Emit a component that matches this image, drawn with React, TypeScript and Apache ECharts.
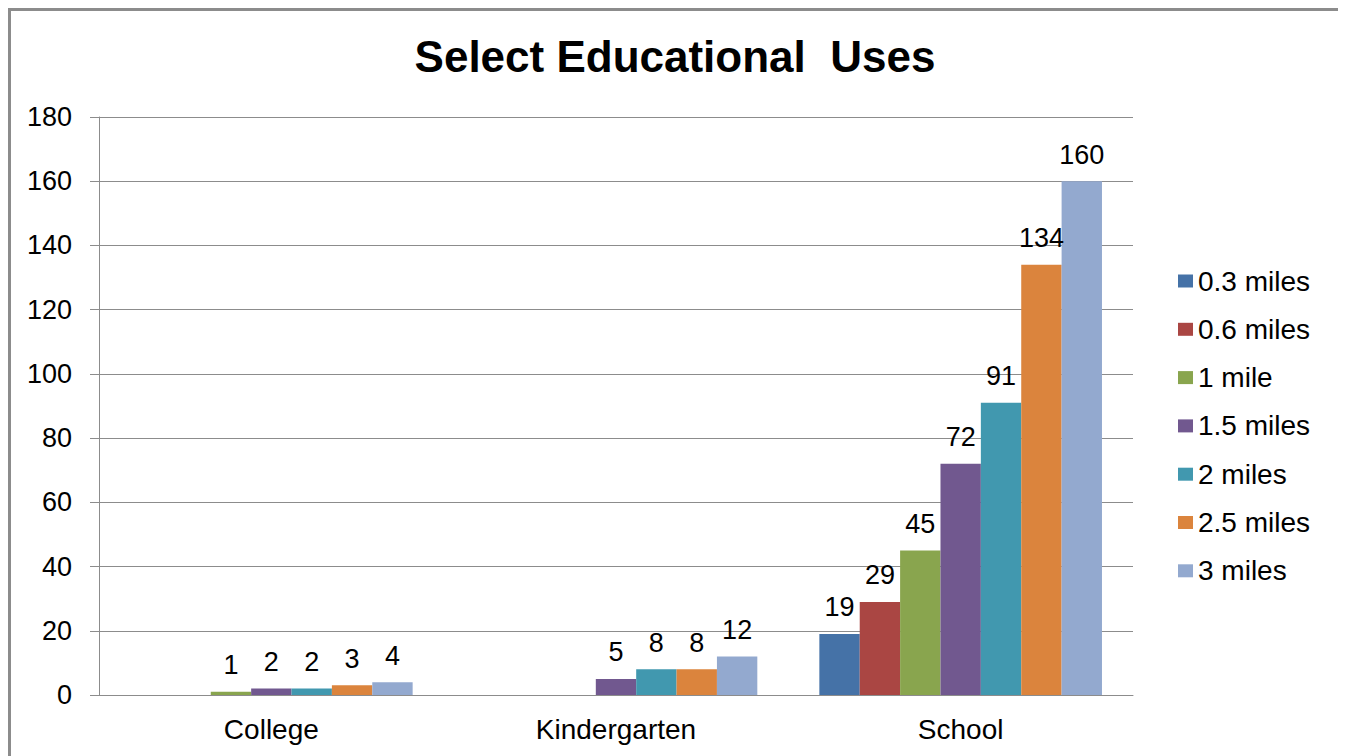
import React, { useEffect, useRef } from "react";
import * as echarts from "echarts";

const categories = ["College", "Kindergarten", "School"];
const seriesNames = ["0.3 miles", "0.6 miles", "1 mile", "1.5 miles", "2 miles", "2.5 miles", "3 miles"];
const miles03 = [null, null, 19];
const miles06 = [null, null, 29];
const miles1 = [1, null, 45];
const miles15 = [2, 5, 72];
const miles2 = [2, 8, 91];
const miles25 = [3, 8, 134];
const miles3 = [4, 12, 160];
const seriesValues = [miles03, miles06, miles1, miles15, miles2, miles25, miles3];
const colors = ["#4572A7", "#AA4643", "#89A54E", "#71588F", "#4198AF", "#DB843D", "#93A9CF"];
const yTicks = { min: 0, max: 180, interval: 20 };

const FONT = "'Liberation Sans', Arial, sans-serif";

export default function App() {
  const ref = useRef<HTMLDivElement>(null);
  useEffect(() => {
    document.body.style.overflow = "hidden";
    const chart = echarts.init(ref.current!, undefined, { renderer: "svg" });
    chart.setOption({
      animation: false,
      backgroundColor: "#ffffff",
      title: {
        text: "Select Educational  Uses",
        left: "center",
        top: 18,
        textStyle: { fontFamily: FONT, fontSize: 44, fontWeight: "bold", color: "#000", lineHeight: 44 },
      },
      legend: {
        orient: "vertical",
        left: 1167,
        top: 256,
        padding: 0,
        itemWidth: 15,
        itemHeight: 13,
        itemGap: 20.3,
        icon: "rect",
        data: seriesNames,
        textStyle: { fontFamily: FONT, fontSize: 28, color: "#000", lineHeight: 28 },
      },
      grid: { left: 88, top: 106, width: 1034, height: 578, containLabel: false },
      xAxis: {
        type: "category",
        data: categories,
        axisLine: { lineStyle: { color: "#8c8c8c", width: 1 } },
        axisTick: { show: false },
        axisLabel: { fontFamily: FONT, fontSize: 28, color: "#000", margin: 20 },
      },
      yAxis: {
        type: "value",
        min: yTicks.min,
        max: yTicks.max,
        interval: yTicks.interval,
        axisLine: { show: true, lineStyle: { color: "#8c8c8c", width: 1 } },
        axisTick: { show: true, length: 9, lineStyle: { color: "#8c8c8c" } },
        splitLine: { lineStyle: { color: "#8c8c8c", width: 1 } },
        axisLabel: { fontFamily: FONT, fontSize: 27, color: "#000", margin: 27 },
      },
      series: seriesNames.map((name, i) => ({
        name,
        type: "bar",
        data: seriesValues[i],
        barGap: "0%",
        barCategoryGap: "18%",
        itemStyle: { color: colors[i] },
        label: {
          show: true,
          position: "top",
          distance: 13,
          fontFamily: FONT,
          fontSize: 27,
          color: "#000",
        },
      })),
    });
    return () => chart.dispose();
  }, []);
  return (
    <div
      style={{
        width: 1334,
        height: 760,
        border: "3px solid #8c8c8c",
        boxSizing: "border-box",
        background: "#fff",
      }}
    >
      <div ref={ref} style={{ width: 1328, height: 754 }} />
    </div>
  );
}
